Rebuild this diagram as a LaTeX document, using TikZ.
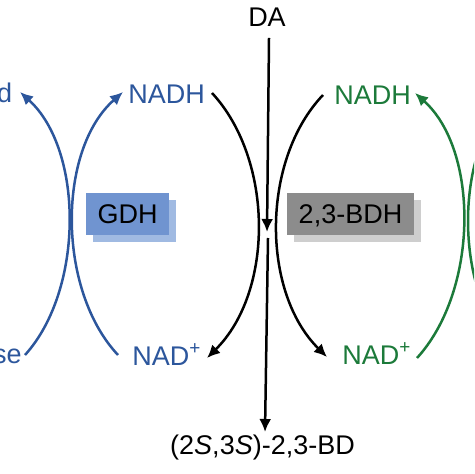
\documentclass[tikz,border=0pt]{standalone}
\usepackage{fontspec}
\setmainfont{Liberation Sans}
\usetikzlibrary{arrows.meta}
\definecolor{cblue}{RGB}{44,86,156}
\definecolor{cgreen}{RGB}{28,122,58}
\definecolor{gdhfront}{RGB}{112,148,208}
\definecolor{gdhback}{RGB}{160,186,226}
\definecolor{bdhfront}{RGB}{140,140,140}
\definecolor{bdhback}{RGB}{206,206,206}
\begin{document}
\begin{tikzpicture}[x=0.5pt,y=-0.5pt,
  lbl/.style={inner sep=0pt,font=\fontsize{13.5}{15}\selectfont},
  bluelbl/.style={lbl,text=cblue},
  greenlbl/.style={lbl,text=cgreen},
  enzbox/.style={lbl,minimum width=41.5pt,minimum height=21pt,text height=9.5pt,text depth=0pt},
  conn/.style={line width=1.25pt,-{Latex[length=6.5pt,width=6pt]}},
  plain/.style={line width=1.25pt}]
\useasboundingbox (0,0) rectangle (474,474);
\begin{scope}
\clip (0,0) rectangle (474,474);
% labels
\node[lbl,anchor=base] (da) at (267,27) {DA};
\node[lbl,anchor=base] (bd) at (262.5,454) {(2\textit{S},3\textit{S})-2,3-BD};
\node[bluelbl,anchor=base east] (acid) at (12.5,103) {d};
\node[bluelbl,anchor=base east] (glc) at (22,363) {se};
\node[bluelbl,anchor=base west] (nadhB) at (128,104) {NADH};
\node[bluelbl,anchor=base west] (nadB) at (132,365) {NAD\textsuperscript{+}};
\node[greenlbl,anchor=base west] (nadhG) at (334,105) {NADH};
\node[greenlbl,anchor=base west] (nadG) at (342,364) {NAD\textsuperscript{+}};
% enzyme boxes
\fill[gdhback] (93,200) rectangle (176,242);
\node[enzbox,fill=gdhfront] (gdh) at (127.5,214) {GDH};
\fill[bdhback] (294,200) rectangle (421,242);
\node[enzbox,fill=bdhfront,minimum width=63.5pt] (bdh) at (350.5,214) {2,3-BDH};
% vertical DA line
\coordinate (daS) at (269,38);
\coordinate (daM) at (267,232);
\coordinate (daM2) at (268,238);
\coordinate (bdE) at (265,432);
\draw[conn] (daS) -- (daM);
\draw[conn] (daM2) -- (bdE);
% blue curves
\coordinate (a0) at (25,355); \coordinate (a1) at (20,92);
\draw[conn,cblue] (a0) .. controls (84,290) and (84,150) .. (a1);
\coordinate (b0) at (118,355); \coordinate (b1) at (123,92);
\draw[conn,cblue] (b0) .. controls (57,290) and (57,150) .. (b1);
% black curves
\coordinate (c0) at (212,93); \coordinate (c1) at (207,358);
\draw[conn] (c0) .. controls (274,160) and (274,292) .. (c1);
\coordinate (d0) at (323,95); \coordinate (d1) at (327,357);
\draw[conn] (d0) .. controls (261,160) and (261,292) .. (d1);
% green curves
\coordinate (e0) at (417,358); \coordinate (e1) at (415,93);
\draw[conn,cgreen] (e0) .. controls (479,290) and (479,150) .. (e1);
\coordinate (f0) at (513,355); \coordinate (f1) at (513,92);
\draw[plain,cgreen] (f0) .. controls (453,290) and (453,150) .. (f1);
\end{scope}
\end{tikzpicture}
\end{document}
